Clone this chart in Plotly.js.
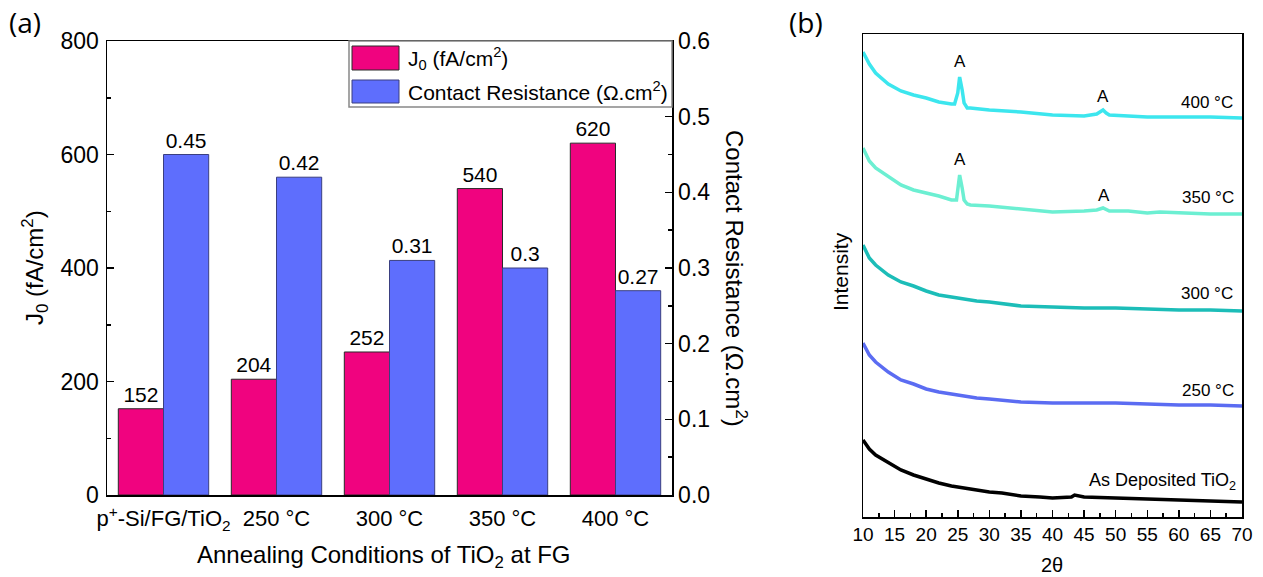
<!DOCTYPE html>
<html><head><meta charset="utf-8">
<script src="https://cdn.plot.ly/plotly-3.0.1.min.js"></script>
<style>html,body{margin:0;padding:0;background:#fff}#chart{width:1263px;height:577px}</style>
</head><body><div id="chart"></div>
<script>
// ---------- Panel (a) data ----------
const categories = ['p<sup>+</sup>-Si/FG/TiO<sub>2</sub>', '250 °C', '300 °C', '350 °C', '400 °C'];
const j0Values = [152, 204, 252, 540, 620];
const contactResistance = [0.45, 0.42, 0.31, 0.3, 0.27];

// ---------- Panel (b) data (2θ vs intensity, arbitrary units) ----------
const theta400 = [10,11,12,14,16,18,20,22,24,24.5,25,25.3,25.7,26,26.5,27,30,35,40,45,47,48,48.5,49,55,60,65,70];
const int400   = [465,453,444,433,426,422,419,415,413,413,424,440,427,414,409,409,407,405,402,401,403,407,404,402,400,400,400,399];
const theta350 = [10,11,12,14,16,18,20,22,24,24.8,25,25.3,25.7,26,26.5,27,30,35,40,45,47,48,49,52,55,57,60,65,70];
const int350   = [369,356,349,340,332,327,324,321,317,317,327,342,329,317,313,312,311,308,305,306,307,309,306,306,304,305,304,303,303];
const theta300 = [10,11,12,14,16,18,20,22,24,26,28,30,35,40,45,50,55,60,65,70];
const int300   = [272,259,252,242,235,231,226,222,220,218,216,215,211,210,209,209,208,207,207,206];
const theta250 = [10,11,12,14,16,18,20,22,24,26,28,30,35,40,45,50,55,60,65,70];
const int250   = [174,162,155,145,137,133,128,125,123,121,119,118,115,114,114,114,113,112,112,111];
const thetaAsDep = [10,11,12,14,16,18,20,22,24,26,28,30,32,35,38,40,43,43.5,45,50,55,60,65,70];
const intAsDep   = [77,68,62,54,47,42,38,34,31,29,27,25,24,21,20,19,20,22,20,19,18,17,16,15];

const xTickVals = [10,15,20,25,30,35,40,45,50,55,60,65,70];
const curveLabels = ['400 °C','350 °C','300 °C','250 °C','As Deposited TiO<sub>2</sub>'];
const legendLabels = ['J<sub>0</sub> (fA/cm<sup>2</sup>)', 'Contact Resistance (Ω.cm<sup>2</sup>)'];

// ---------- helpers ----------
const W = 1263, H = 577;
const px = x => x / W;
const py = y => 1 - y / H;
const FONT = 'Arial, "Liberation Sans", sans-serif';
const PINK = '#F0037F', BLUE = '#5E6EFD';

const traces = [
  {type:'bar', x:categories, y:j0Values, xaxis:'x', yaxis:'y', offsetgroup:'1',
   marker:{color:PINK, line:{color:'#2a2a2a', width:1}},
   text:j0Values.map(String), textposition:'outside', cliponaxis:false,
   textfont:{size:21, color:'#000', family:FONT}, showlegend:false, name:'J0'},
  {type:'bar', x:categories, y:contactResistance, xaxis:'x', yaxis:'y2', offsetgroup:'2',
   marker:{color:BLUE, line:{color:'#3a3f80', width:1}},
   text:contactResistance.map(String), textposition:'outside', cliponaxis:false,
   textfont:{size:21, color:'#000', family:FONT}, showlegend:false, name:'Contact Resistance'},
  {type:'scatter', mode:'lines', x:theta400, y:int400, xaxis:'x2', yaxis:'y3', line:{color:'#3CE6EE', width:3.5}, showlegend:false},
  {type:'scatter', mode:'lines', x:theta350, y:int350, xaxis:'x2', yaxis:'y3', line:{color:'#6CEFD2', width:3.5}, showlegend:false},
  {type:'scatter', mode:'lines', x:theta300, y:int300, xaxis:'x2', yaxis:'y3', line:{color:'#1CBDB8', width:3.5}, showlegend:false},
  {type:'scatter', mode:'lines', x:theta250, y:int250, xaxis:'x2', yaxis:'y3', line:{color:'#5B6CF2', width:3.5}, showlegend:false},
  {type:'scatter', mode:'lines', x:thetaAsDep, y:intAsDep, xaxis:'x2', yaxis:'y3', line:{color:'#000000', width:3.5}, showlegend:false}
];

const ann = (text, x, y, o) => Object.assign({text, x, y, xref:'paper', yref:'paper', showarrow:false,
  xanchor:'center', yanchor:'middle', font:{family:FONT, size:24, color:'#000'}}, o || {});
const annD = (text, x, y, o) => Object.assign({text, x, y, xref:'x2', yref:'y3', showarrow:false,
  xanchor:'center', yanchor:'middle', font:{family:FONT, size:17, color:'#000'}}, o || {});

const annotations = [
  ann('(a)', px(25), py(22), {font:{family:'"Open Sans", Arial, sans-serif', size:28, color:'#000'}}),
  ann('(b)', px(806), py(22), {font:{family:'"Open Sans", Arial, sans-serif', size:28, color:'#000'}}),
  ann('J<sub>0</sub> (fA/cm<sup>2</sup>)', px(35), py(268), {textangle:-90}),
  ann('Contact Resistance (Ω.cm<sup>2</sup>)', px(736), py(278), {textangle:90}),
  ann('Annealing Conditions of TiO<sub>2</sub> at FG', px(384), py(556)),
  ann('Intensity', px(840), py(272), {textangle:-90, font:{family:FONT, size:21, color:'#000'}}),
  ann('2θ', px(1052), py(565), {font:{family:FONT, size:20, color:'#000'}}),
  ann(legendLabels[0], px(406), py(58), {xanchor:'left', font:{family:FONT, size:21, color:'#000'}}),
  ann(legendLabels[1], px(406), py(91), {xanchor:'left', font:{family:FONT, size:21, color:'#000'}}),
  annD('A', 25.3, 455), annD('A', 48, 420),
  annD('A', 25.3, 357), annD('A', 48.2, 321),
  annD(curveLabels[0], 64.5, 414), annD(curveLabels[1], 64.6, 319),
  annD(curveLabels[2], 64.5, 224), annD(curveLabels[3], 64.6, 127),
  annD(curveLabels[4], 69.3, 36, {xanchor:'right', font:{family:FONT, size:18, color:'#000'}})
];

const shapes = [
  {type:'rect', xref:'paper', yref:'paper', x0:px(349), x1:px(672), y0:py(107), y1:py(41),
   line:{color:'#888', width:1.5}, fillcolor:'#fff', layer:'above'},
  {type:'rect', xref:'paper', yref:'paper', x0:px(352), x1:px(399), y0:py(70), y1:py(46),
   line:{color:'#2a2a2a', width:1}, fillcolor:PINK, layer:'above'},
  {type:'rect', xref:'paper', yref:'paper', x0:px(352), x1:px(399), y0:py(103), y1:py(80),
   line:{color:'#3a3f80', width:1}, fillcolor:BLUE, layer:'above'}
];

const layout = {
  width:W, height:H, margin:{l:0, r:0, t:0, b:0}, paper_bgcolor:'#fff', plot_bgcolor:'rgba(0,0,0,0)',
  font:{family:FONT, color:'#000'}, showlegend:false,
  barmode:'group', bargap:0.2, bargroupgap:0,
  xaxis:{domain:[px(107), px(672)], anchor:'y', type:'category', range:[-0.5, 4.5],
    showline:true, mirror:true, linecolor:'#000', linewidth:1.5, ticks:'', showgrid:false, zeroline:false,
    tickfont:{size:22}, ticklabelstandoff:3},
  yaxis:{domain:[py(495), py(41)], anchor:'x', range:[0, 800], dtick:200, ticks:'inside', ticklen:7,
    tickcolor:'#000', tickwidth:1.5, showline:true, linecolor:'#000', linewidth:1.5, showgrid:false, zeroline:false,
    tickfont:{size:23}, ticklabelstandoff:2, minor:{dtick:100, ticks:'inside', ticklen:4, tickcolor:'#000', tickwidth:1.5}},
  yaxis2:{overlaying:'y', anchor:'x', side:'right', range:[0, 0.6], dtick:0.1, tickformat:'.1f',
    ticks:'inside', ticklen:7, tickcolor:'#000', tickwidth:1.5, showline:true, linecolor:'#000', linewidth:1.5,
    showgrid:false, zeroline:false, tickfont:{size:23},
    minor:{dtick:0.05, ticks:'inside', ticklen:4, tickcolor:'#000', tickwidth:1.5}},
  xaxis2:{domain:[px(863), px(1242)], anchor:'y3', range:[10, 70], tickvals:xTickVals,
    ticks:'inside', ticklen:7, tickcolor:'#000', tickwidth:1.5, showline:true, mirror:true,
    linecolor:'#000', linewidth:1.5, showgrid:false, zeroline:false, tickfont:{size:19},
    minor:{dtick:2.5, ticks:'inside', ticklen:4, tickcolor:'#000', tickwidth:1.5}},
  yaxis3:{domain:[py(517), py(34)], anchor:'x2', range:[0, 483], showticklabels:false, ticks:'',
    showline:true, mirror:true, linecolor:'#000', linewidth:1.5, showgrid:false, zeroline:false},
  annotations, shapes
};

Plotly.newPlot('chart', traces, layout, {displayModeBar:false, staticPlot:true});
</script>
</body></html>
